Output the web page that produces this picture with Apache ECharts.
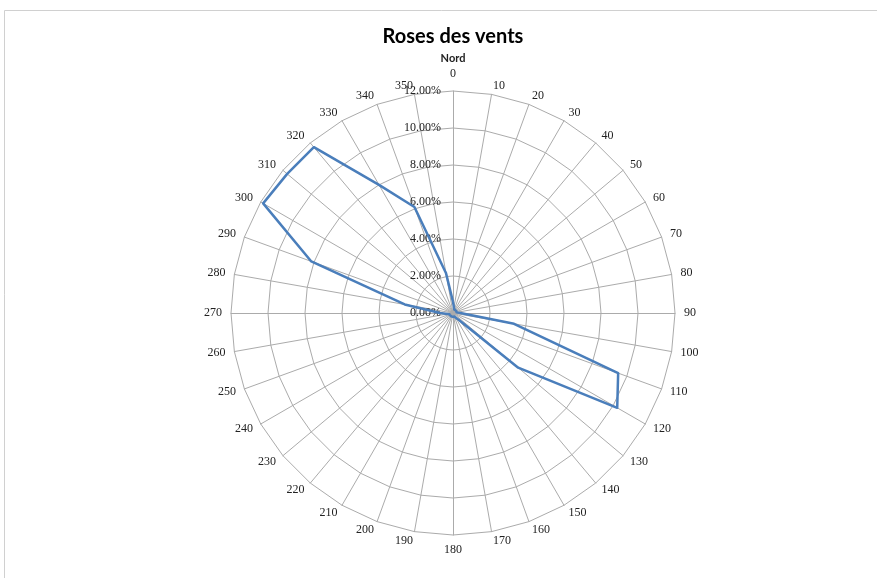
<!DOCTYPE html>
<html>
<head>
<meta charset="utf-8">
<script src="https://cdn.jsdelivr.net/npm/echarts@6/dist/echarts.min.js"></script>
<style>
  html, body { margin: 0; padding: 0; background: #ffffff; }
  #chart { width: 877px; height: 578px; }
</style>
</head>
<body>
<div id="chart"></div>
<script>
// Wind directions in degrees, clockwise from north
const directions = [0, 10, 20, 30, 40, 50, 60, 70, 80, 90, 100, 110, 120, 130, 140, 150, 160, 170,
                    180, 190, 200, 210, 220, 230, 240, 250, 260, 270, 280, 290, 300, 310, 320, 330, 340, 350];
// Share of observations per direction (%)
const frequencies = [0.6, 0.3, 0.2, 0.2, 0.2, 0.2, 0.2, 0.2, 0.2, 0.4, 3.35, 9.5, 10.25, 4.6, 0.5, 0.3, 0.2, 0.2,
                     0.2, 0.2, 0.2, 0.2, 0.2, 0.2, 0.2, 0.2, 0.3, 0.7, 2.65, 8.15, 11.85, 11.7, 11.7, 8.0, 6.1, 2.2];
// Radial scale (%)
const radialMax = 12;
const radialStep = 2;

const title = 'Roses des vents';
const northName = 'Nord';

// ECharts lays radar indicators counter-clockwise, so walk the directions backwards after north
const order = [0].concat(directions.map((d, i) => i).slice(1).reverse());

const indicators = order.map((i, k) => {
  const ind = { name: String(directions[i]), min: 0, max: radialMax };
  if (k === 0) {
    ind.name = '{n|' + northName + '}\n{d|' + directions[i] + '}';
    ind.axisLabel = {
      show: true,
      fontFamily: 'Liberation Serif',
      fontSize: 12,
      color: '#222',
      margin: 12,
      formatter: v => v.toFixed(2) + '%'
    };
  }
  return ind;
});
const values = order.map(i => frequencies[i]);

const chart = echarts.init(document.getElementById('chart'), null, { renderer: 'canvas' });
chart.setOption({
  animation: false,
  backgroundColor: '#ffffff',
  title: {
    text: title,
    left: 448,
    top: 22,
    textAlign: 'center',
    textStyle: { fontFamily: 'Lato', fontWeight: 'bold', fontSize: 20, color: '#000' }
  },
  graphic: [{
    type: 'rect',
    shape: { x: 4.5, y: 10.5, width: 900, height: 600 },
    style: { fill: 'none', stroke: '#d0d0d0', lineWidth: 1 },
    silent: true
  }],
  radar: {
    center: [453, 313],
    radius: 222,
    startAngle: 90,
    shape: 'polygon',
    splitNumber: radialMax / radialStep,
    indicator: indicators,
    nameGap: 9,
    axisName: {
      color: '#222',
      fontFamily: 'Liberation Serif',
      fontSize: 12,
      rich: {
        n: { fontFamily: 'Lato', fontWeight: 'bold', fontSize: 11, color: '#222', lineHeight: 16, align: 'center' },
        d: { fontFamily: 'Liberation Serif', fontSize: 12, color: '#222', lineHeight: 16, align: 'center' }
      }
    },
    axisLine: { lineStyle: { color: '#ababab', width: 1 } },
    splitLine: { lineStyle: { color: '#ababab', width: 1 } },
    splitArea: { show: false },
    axisTick: { show: false },
    axisLabel: { show: false }
  },
  series: [{
    type: 'radar',
    symbol: 'none',
    lineStyle: { color: '#4a7ebb', width: 2.5 },
    itemStyle: { color: '#4a7ebb' },
    data: [{ value: values, name: title }]
  }]
});
</script>
</body>
</html>
